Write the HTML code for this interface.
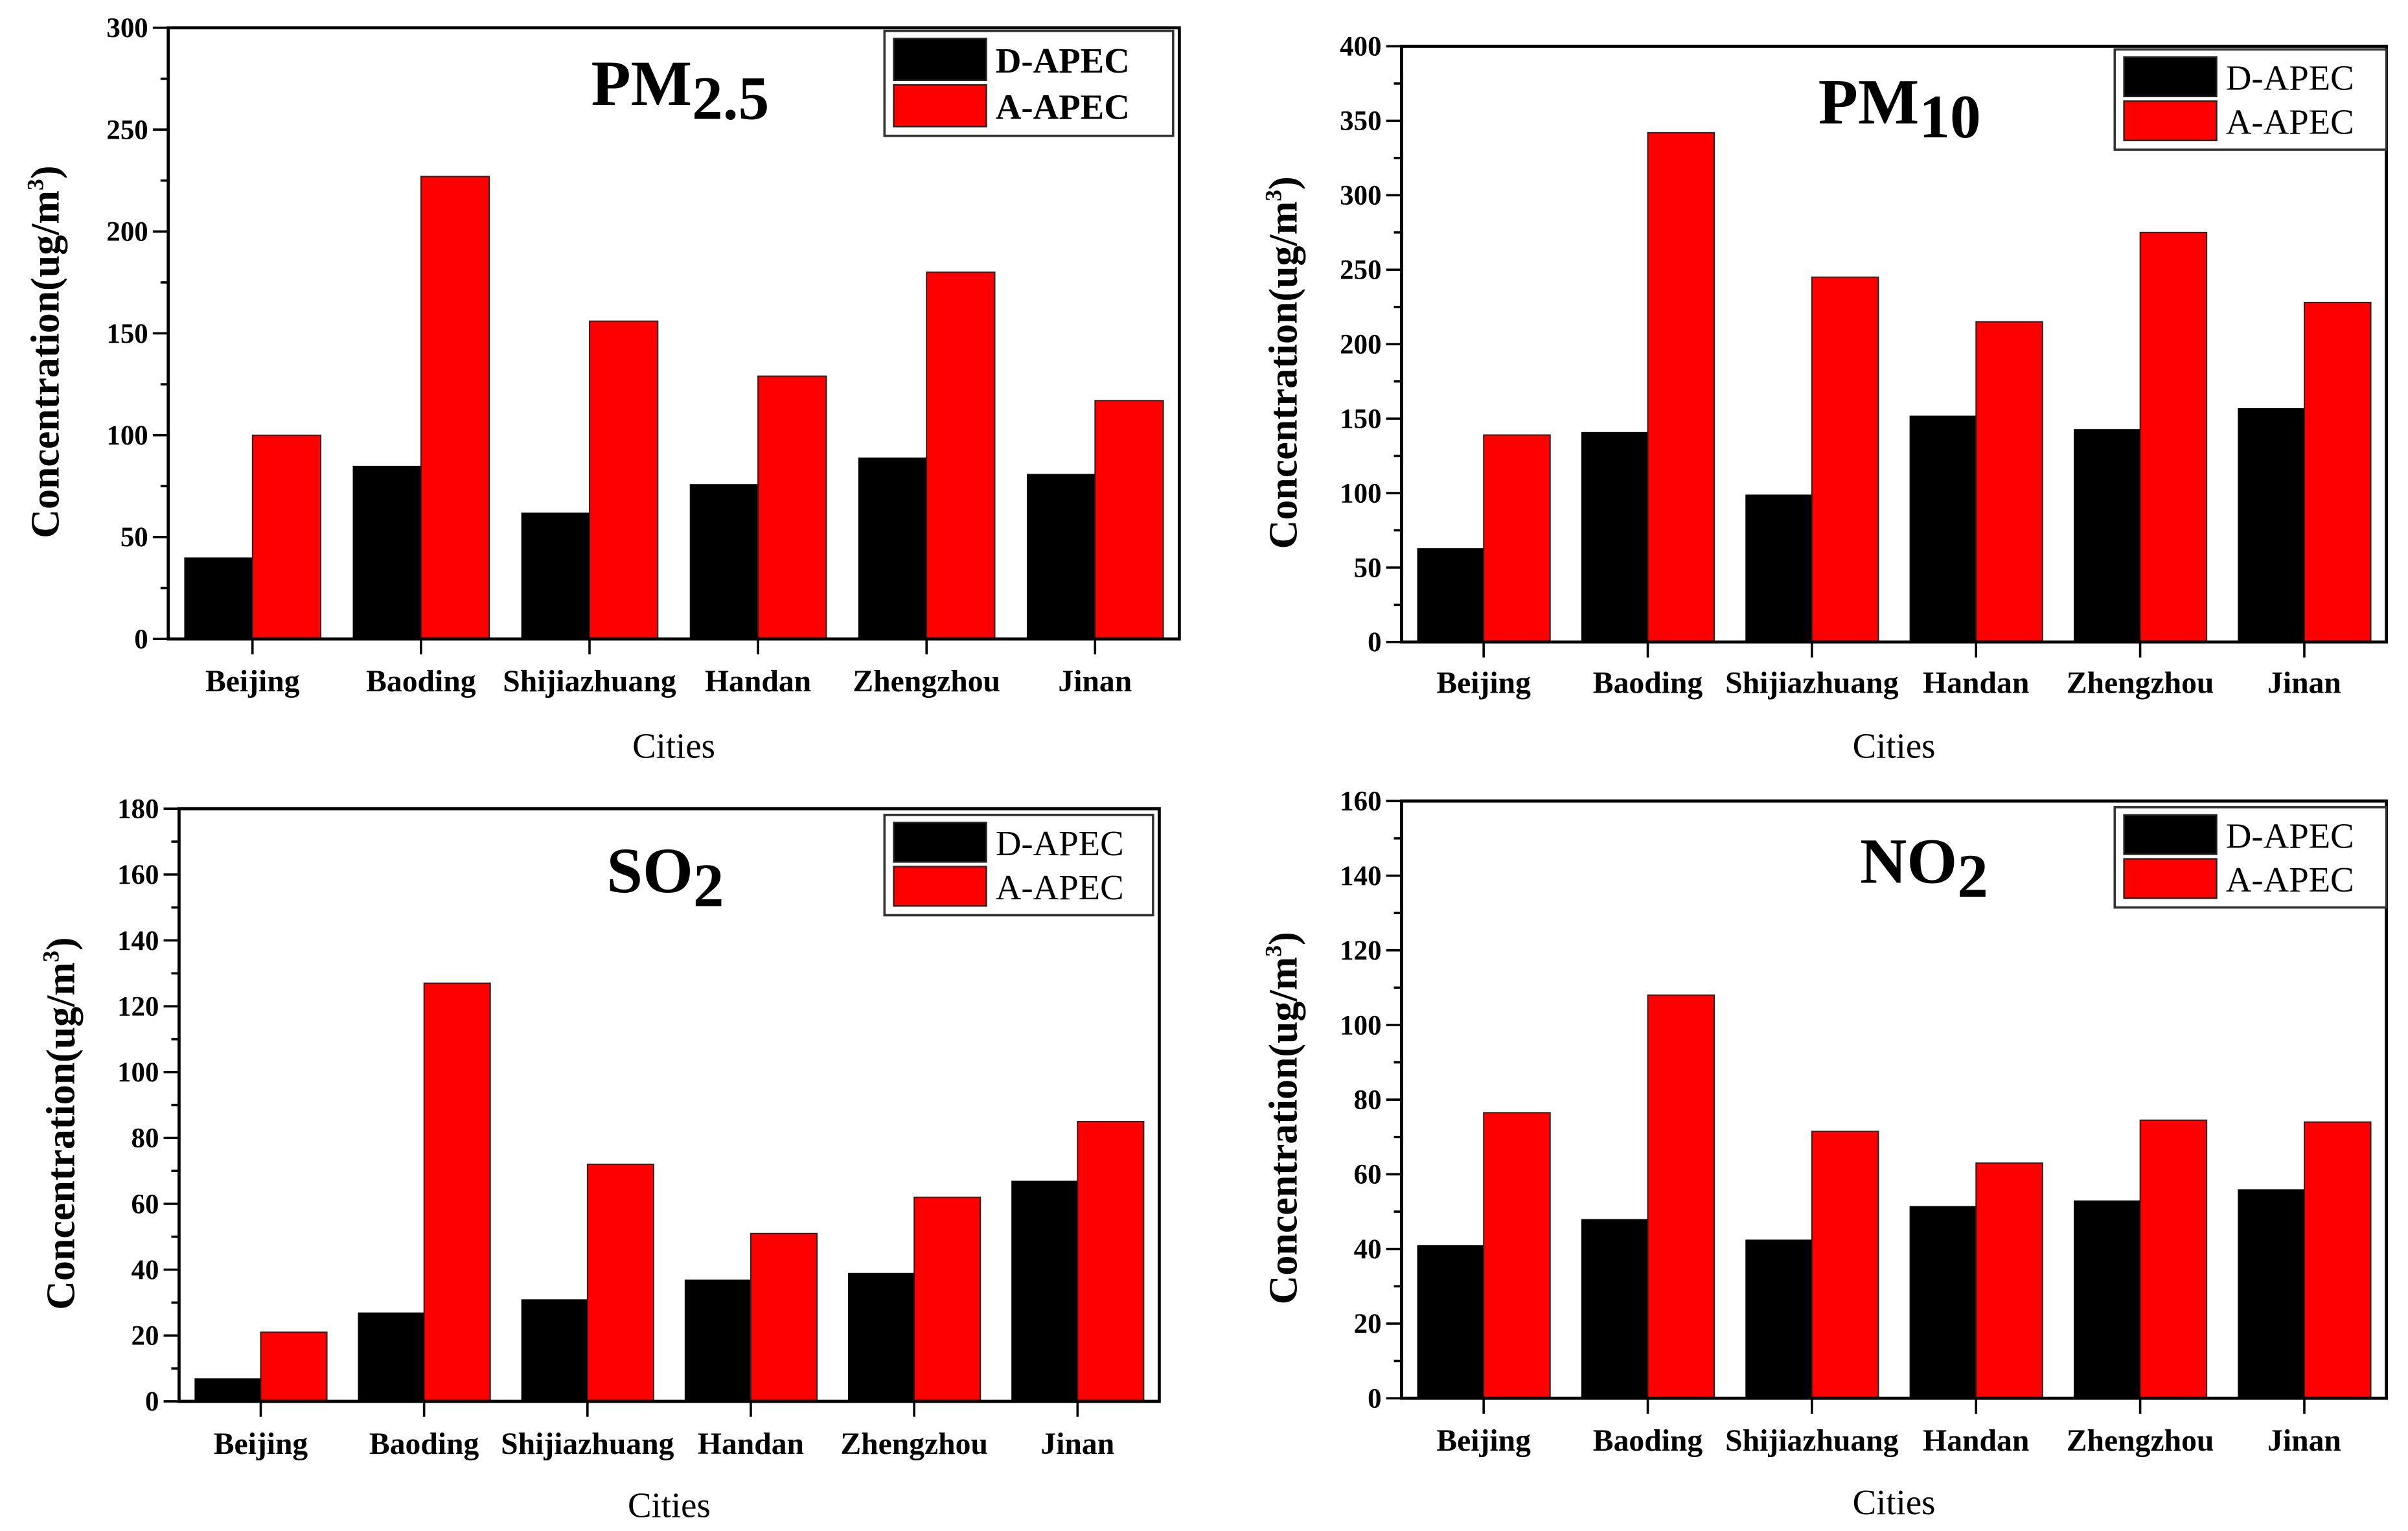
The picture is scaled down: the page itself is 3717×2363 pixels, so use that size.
<!DOCTYPE html>
<html><head><meta charset="utf-8"><style>
html,body{margin:0;padding:0;background:#fff;}
svg{display:block;}
text{font-family:"Liberation Serif",serif;}
</style></head><body>
<svg id="fig" width="3717" height="2363" viewBox="0 0 1560 992" preserveAspectRatio="none" xmlns="http://www.w3.org/2000/svg"></svg>
<script>
const cities = ["Beijing","Baoding","Shijiazhuang","Handan","Zhengzhou","Jinan"];
const pm25D = [40,85,62,76,89,81];
const pm25A = [100,227,156,129,180,117];
const pm10D = [63,141,99,152,143,157];
const pm10A = [139,342,245,215,275,228];
const so2D = [7,27,31,37,39,67];
const so2A = [21,127,72,51,62,85];
const no2D = [41,48,42.5,51.5,53,56];
const no2A = [76.5,108,71.5,63,74.5,74];
const pm25Ticks = [0,50,100,150,200,250,300];
const pm10Ticks = [0,50,100,150,200,250,300,350,400];
const so2Ticks = [0,20,40,60,80,100,120,140,160,180];
const no2Ticks = [0,20,40,60,80,100,120,140,160];
const seriesNames = ["D-APEC","A-APEC"];

const NS="http://www.w3.org/2000/svg";
const svg=document.getElementById('fig');
function mk(tag,attrs,parent){const e=document.createElementNS(NS,tag);for(const k in attrs)e.setAttribute(k,attrs[k]);(parent||svg).appendChild(e);return e;}

const panels=[
 {id:'pm25',L:109,R:764,T:18,B:414,ticks:pm25Ticks,D:pm25D,A:pm25A,title:'PM',sub:'2.5',tx:383,ty:68,lg:[573,20,760,88],lgBold:true,ylx:38,catY:448,citY:491},
 {id:'pm10',L:908,R:1546,T:30,B:416,ticks:pm10Ticks,D:pm10D,A:pm10A,title:'PM',sub:'10',tx:1178,ty:80,lg:[1370,32,1546,97],lgBold:false,ylx:840,catY:449,citY:491},
 {id:'so2',L:116,R:751,T:524,B:908,ticks:so2Ticks,D:so2D,A:so2A,title:'SO',sub:'2',tx:393,ty:578,lg:[573,528,747,593],lgBold:false,ylx:48,catY:942,citY:983},
 {id:'no2',L:908,R:1546,T:519,B:906,ticks:no2Ticks,D:no2D,A:no2A,title:'NO',sub:'2',tx:1205,ty:572,lg:[1370,523,1546,588],lgBold:false,ylx:840,catY:940,citY:981}
];

panels.forEach(p=>{
 const g=mk('g',{});
 
 
 const max=p.ticks[p.ticks.length-1];
 const y=v=>p.B-(v/max)*(p.B-p.T);
 const band=(p.R-p.L)/cities.length;
 const x=i=>p.L+band*(i+0.5);
 const bw=band*0.405;
 cities.forEach((c,i)=>{
  const b1=mk('rect',{x:x(i)-bw,y:y(p.D[i]),width:bw,height:p.B-y(p.D[i]),fill:'#000'},g);
  
  
  const b2=mk('rect',{x:x(i),y:y(p.A[i]),width:bw,height:p.B-y(p.A[i]),fill:'#ff0000',stroke:'#222','stroke-width':0.8},g);
  
  
  mk('line',{x1:x(i),x2:x(i),y1:p.B,y2:p.B+10,stroke:'#000','stroke-width':1.5},g);
  const cl=mk('text',{x:x(i),y:p.catY,'text-anchor':'middle','font-size':20,'font-weight':'bold'},g);
  cl.textContent=c;
  
  
 });
 const fr=mk('rect',{x:p.L,y:p.T,width:p.R-p.L,height:p.B-p.T,fill:'none',stroke:'#000','stroke-width':2},g);
 
 
 p.ticks.forEach((t,k)=>{
  mk('line',{x1:p.L-10,x2:p.L,y1:y(t),y2:y(t),stroke:'#000','stroke-width':1.5},g);
  if(k<p.ticks.length-1){const m=(t+p.ticks[k+1])/2;mk('line',{x1:p.L-5,x2:p.L,y1:y(m),y2:y(m),stroke:'#000','stroke-width':1.5},g);}
  const tl=mk('text',{x:p.L-13,y:y(t)+6,'text-anchor':'end','font-size':18,'font-weight':'bold'},g);
  tl.textContent=t;
  
  
 });
 const cy=(p.T+p.B)/2+12;
 const yt=mk('text',{x:p.ylx,y:cy,'text-anchor':'middle','font-size':26,'font-weight':'bold',transform:`rotate(-90 ${p.ylx} ${cy})`},g);
 yt.innerHTML='Concentration(ug/m<tspan dy="-10" font-size="15">3</tspan><tspan dy="10">)</tspan>';
 
 
 const xt=mk('text',{x:(p.L+p.R)/2,y:p.citY,'text-anchor':'middle','font-size':23},g);
 xt.textContent='Cities';
 
 
 const ti=mk('text',{x:p.tx,y:p.ty,'font-size':42,'font-weight':'bold'},g);
 ti.innerHTML=p.title+'<tspan dy="9" font-size="40">'+p.sub+'</tspan>';
 
 
 const [lx1,ly1,lx2,ly2]=p.lg;
 const lg=mk('g',{},g);
 
 
 mk('rect',{x:lx1,y:ly1,width:lx2-lx1,height:ly2-ly1,fill:'#fff',stroke:'#333','stroke-width':1.5},lg);
 const rh=(ly2-ly1-8)/2;
 seriesNames.forEach((s,j)=>{
  const sy=ly1+4+j*rh;
  const sw=mk('rect',{x:lx1+6,y:sy+1,width:60,height:rh-3,fill:j?'#ff0000':'#000',stroke:'#222','stroke-width':1},lg);
  
  
  const lt=mk('text',{x:lx1+72,y:sy+rh/2+8,'font-size':23,'font-weight':p.lgBold?'bold':'normal'},lg);
  lt.textContent=s;
  
  
 });
});
</script>
</body></html>
